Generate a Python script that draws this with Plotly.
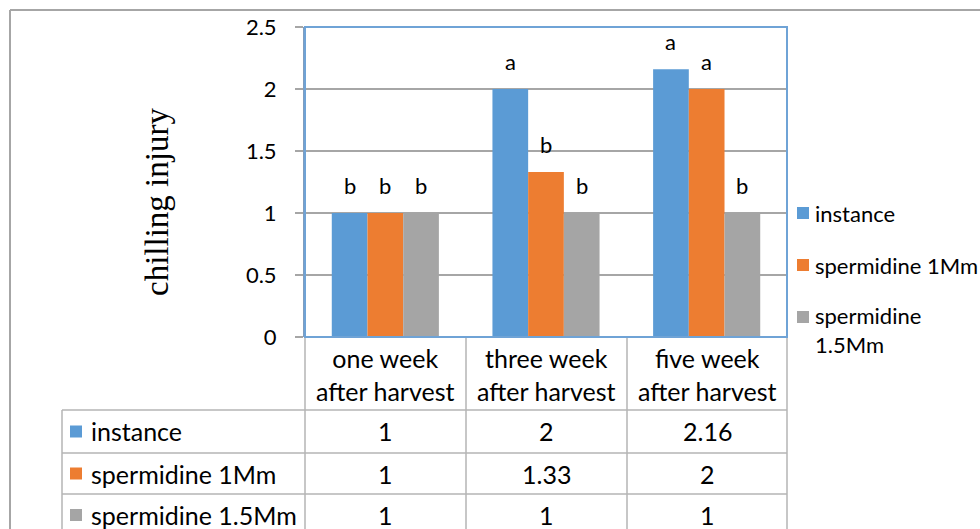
import plotly.graph_objects as go

categories = ["one week<br>after harvest", "three week<br>after harvest", "five week<br>after harvest"]
series_names = ["instance", "spermidine 1Mm", "spermidine 1.5Mm"]
legend_names = ["instance", "spermidine 1Mm", "spermidine<br>1.5Mm"]
instance = [1, 2, 2.16]
spermidine_1 = [1, 1.33, 2]
spermidine_15 = [1, 1, 1]
letters_instance = ["b", "a", "a"]
letters_sp1 = ["b", "b", "a"]
letters_sp15 = ["b", "b", "b"]
table_text = [["1", "2", "2.16"], ["1", "1.33", "2"], ["1", "1", "1"]]
y_ticks = [0, 0.5, 1, 1.5, 2, 2.5]
y_title = "chilling injury"
colors = ["#5B9BD5", "#ED7D31", "#A5A5A5"]

W, H = 980, 529
# plot area in screen pixels
L, R, T, B = 305, 787, 27, 337
PW, PH = R - L, B - T


def px(x):
    return (x - L) / PW


def py(y):
    return (B - y) / PH


series = [instance, spermidine_1, spermidine_15]
letters = [letters_instance, letters_sp1, letters_sp15]
x_idx = [0, 1, 2]

fig = go.Figure()
for name, vals, col in zip(series_names, series, colors):
    fig.add_trace(go.Bar(x=x_idx, y=vals, name=name, marker=dict(color=col, line=dict(width=0)),
                         showlegend=False, hoverinfo="y+name"))

bargap = 1 / 3
bar_w = PW / 3 * (1 - bargap) / 3
annotations = []
shapes = []
FONT = "Lato"
GRID = "#A6A6A6"
TBL = "#B4B4B4"

# significance letters above bars
for s, (vals, lets) in enumerate(zip(series, letters)):
    for i, (v, t) in enumerate(zip(vals, lets)):
        annotations.append(dict(x=i, y=v, xref="x", yref="y", text=t, showarrow=False,
                                xshift=(s - 1) * bar_w, yanchor="bottom", yshift=12,
                                font=dict(family=FONT, size=22, color="#000")))

# y axis title
annotations.append(dict(x=px(157), y=py(202), xref="paper", yref="paper", text=y_title, showarrow=False,
                        textangle=-90, xanchor="center", yanchor="middle",
                        font=dict(family="Liberation Serif", size=33, color="#000")))

# outer chart border
shapes.append(dict(type="line", xref="paper", yref="paper", x0=px(10), x1=px(990), y0=py(10), y1=py(10),
                   line=dict(color=GRID, width=2)))
shapes.append(dict(type="line", xref="paper", yref="paper", x0=px(10), x1=px(10), y0=py(10), y1=py(540),
                   line=dict(color=GRID, width=2)))

# table grid
col_edges = [305, 466, 627, 787]
row_edges = [410, 453, 494, 536]
for xe in col_edges:
    shapes.append(dict(type="line", xref="paper", yref="paper", x0=px(xe), x1=px(xe), y0=py(337), y1=py(540),
                       line=dict(color=TBL, width=1.5)))
shapes.append(dict(type="line", xref="paper", yref="paper", x0=px(62), x1=px(62), y0=py(410), y1=py(540),
                   line=dict(color=TBL, width=1.5)))
for ye in row_edges[:-1]:
    shapes.append(dict(type="line", xref="paper", yref="paper", x0=px(62), x1=px(787), y0=py(ye), y1=py(ye),
                       line=dict(color=TBL, width=1.5)))

# category header labels
for c, cat in enumerate(categories):
    cx = (col_edges[c] + col_edges[c + 1]) / 2
    annotations.append(dict(x=px(cx), y=py(374), xref="paper", yref="paper", text=cat, showarrow=False,
                            xanchor="center", yanchor="middle", align="center",
                            font=dict(family=FONT, size=25, color="#000")))

# table rows
for r, (name, col) in enumerate(zip(series_names, colors)):
    cy = (row_edges[r] + row_edges[r + 1]) / 2
    shapes.append(dict(type="rect", xref="paper", yref="paper", x0=px(70), x1=px(82), y0=py(cy - 6), y1=py(cy + 6),
                       fillcolor=col, line=dict(width=0)))
    annotations.append(dict(x=px(89), y=py(cy), xref="paper", yref="paper", text=name, showarrow=False,
                            xanchor="left", yanchor="middle", font=dict(family=FONT, size=25, color="#000")))
    for c in range(3):
        cx = (col_edges[c] + col_edges[c + 1]) / 2
        annotations.append(dict(x=px(cx), y=py(cy), xref="paper", yref="paper", text=table_text[r][c],
                                showarrow=False, xanchor="center", yanchor="middle",
                                font=dict(family=FONT, size=25, color="#000")))

# legend (manual)
leg_y = [213, 265, 317]
for name, col, ly in zip(legend_names, colors, leg_y):
    shapes.append(dict(type="rect", xref="paper", yref="paper", x0=px(797), x1=px(809), y0=py(ly - 6), y1=py(ly + 6),
                       fillcolor=col, line=dict(width=0)))
    annotations.append(dict(x=px(813), y=py(ly), xref="paper", yref="paper", text=name, showarrow=False,
                            xanchor="left", yanchor="top" if "<br>" in name else "middle",
                            yshift=17 if "<br>" in name else 0, align="left",
                            font=dict(family=FONT, size=22, color="#000")))

# plot area border
shapes.append(dict(type="rect", xref="paper", yref="paper", x0=0, x1=1, y0=0, y1=1,
                   line=dict(color="#6FA3D6", width=2)))

fig.update_layout(
    width=W, height=H,
    margin=dict(l=L, r=W - R, t=T, b=H - B, autoexpand=False),
    paper_bgcolor="white", plot_bgcolor="white",
    barmode="group", bargap=bargap, bargroupgap=0,
    annotations=annotations, shapes=shapes,
    xaxis=dict(range=[-0.5, 2.5], showticklabels=False, showgrid=False, zeroline=False, ticks="", fixedrange=True),
    yaxis=dict(range=[0, 2.5], tickvals=y_ticks, ticktext=[f"{v:g}" for v in y_ticks],
               showgrid=True, gridcolor=GRID, gridwidth=1.5, zeroline=False,
               ticks="outside", ticklen=8, tickcolor=GRID, tickwidth=1.5,
               showline=True, linecolor="#7F9DBF", linewidth=2,
               ticklabelstandoff=14,
               tickfont=dict(family=FONT, size=22, color="#000")),
    font=dict(family=FONT),
)

fig.write_html("out.html", config={"displayModeBar": False},
               post_script="document.body.style.margin='0';document.body.style.overflow='hidden';")
